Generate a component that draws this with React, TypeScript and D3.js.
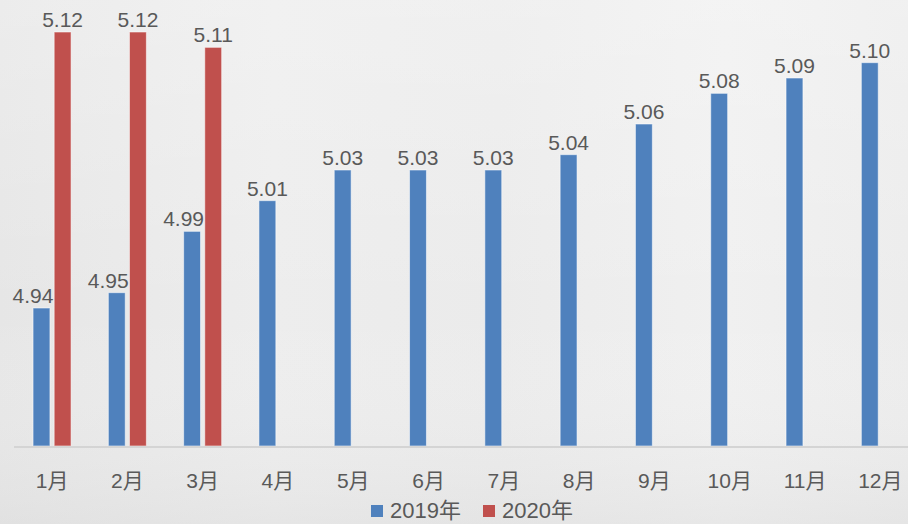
import { useMemo } from "react";
import * as d3 from "d3";

const months = ["1月", "2月", "3月", "4月", "5月", "6月", "7月", "8月", "9月", "10月", "11月", "12月"];
const series = ["2019年", "2020年"];
const values2019 = [4.94, 4.95, 4.99, 5.01, 5.03, 5.03, 5.03, 5.04, 5.06, 5.08, 5.09, 5.1];
const values2020: (number | null)[] = [5.12, 5.12, 5.11, null, null, null, null, null, null, null, null, null];

const colors = ["#4f81bd", "#c0504d"];
const FONT = "'Liberation Sans', 'Noto Sans CJK SC', sans-serif";
const TEXT = "#595959";

export default function App() {
  const width = 908;
  const height = 524;
  const baseline = 446;

  // outer band: one slot per month, ~75px per step
  const x0 = useMemo(
    () => d3.scaleBand<string>().domain(months).range([14.4, 918]).paddingInner(0.495).paddingOuter(0.2475),
    [],
  );
  const x1 = useMemo(
    () => d3.scaleBand<string>().domain(series).range([0, x0.bandwidth()]).paddingInner(0.2),
    [x0],
  );
  // axis starts at 4.85, not zero
  const y = useMemo(() => d3.scaleLinear().domain([4.85, 5.12]).range([baseline, 32]), []);

  const bars = months.flatMap((m, i) =>
    [values2019[i], values2020[i]].map((v, s) => ({ m, i, s, v })),
  ).filter((d) => d.v != null) as Array<{ m: string; i: number; s: number; v: number }>;

  return (
    <svg
      width={width}
      height={height}
      style={{ position: "absolute", left: 0, top: 0, display: "block" }}
      fontFamily={FONT}
    >
      <defs>
        <linearGradient id="bg" x1="0" x2="1" y1="0" y2="0">
          <stop offset="0%" stopColor="#e6e6e6" />
          <stop offset="30%" stopColor="#ededed" />
          <stop offset="55%" stopColor="#ebebeb" />
          <stop offset="80%" stopColor="#f0f0f0" />
          <stop offset="100%" stopColor="#ececec" />
        </linearGradient>
        <linearGradient id="shade" x1="0" x2="0" y1="0" y2="1">
          <stop offset="0%" stopColor="#ffffff" stopOpacity="0.25" />
          <stop offset="60%" stopColor="#ffffff" stopOpacity="0" />
          <stop offset="100%" stopColor="#d8d8d8" stopOpacity="0.35" />
        </linearGradient>
      </defs>
      <rect width={width} height={height} fill="url(#bg)" />
      <rect width={width} height={height} fill="url(#shade)" />

      {bars.map((d) => {
        const bx = x0(d.m)! + x1(series[d.s])!;
        return (
          <rect
            key={`${d.m}-${d.s}`}
            x={bx}
            y={y(d.v)}
            width={x1.bandwidth()}
            height={baseline - y(d.v)}
            fill={colors[d.s]}
            stroke="#ffffff"
            strokeOpacity={0.55}
            strokeWidth={1}
          />
        );
      })}

      <line x1={14} x2={width} y1={baseline + 1} y2={baseline + 1} stroke="#d4d4d4" strokeWidth={2} />

      {bars.map((d) => {
        const bx = x0(d.m)! + x1(series[d.s])!;
        // blue labels next to a red bar are pushed left so they don't overlap it
        const shifted = d.s === 0 && values2020[d.i] != null;
        return (
          <text
            key={`l-${d.m}-${d.s}`}
            x={shifted ? bx + x1.bandwidth() + 3.5 : bx + x1.bandwidth() / 2}
            y={y(d.v) - 5}
            textAnchor={shifted ? "end" : "middle"}
            fontSize={21}
            fill={TEXT}
          >
            {d.v.toFixed(2)}
          </text>
        );
      })}

      {months.map((m) => (
        <text
          key={m}
          x={x0(m)! + x0.bandwidth() / 2}
          y={488}
          textAnchor="middle"
          fontSize={21}
          fill={TEXT}
        >
          {m}
        </text>
      ))}

      {series.map((s, i) => (
        <g key={s} transform={`translate(${371 + i * 112},0)`}>
          <rect x={0} y={505} width={12} height={12} fill={colors[i]} />
          <text x={19} y={518} fontSize={22} fill={TEXT}>
            {s}
          </text>
        </g>
      ))}
    </svg>
  );
}
